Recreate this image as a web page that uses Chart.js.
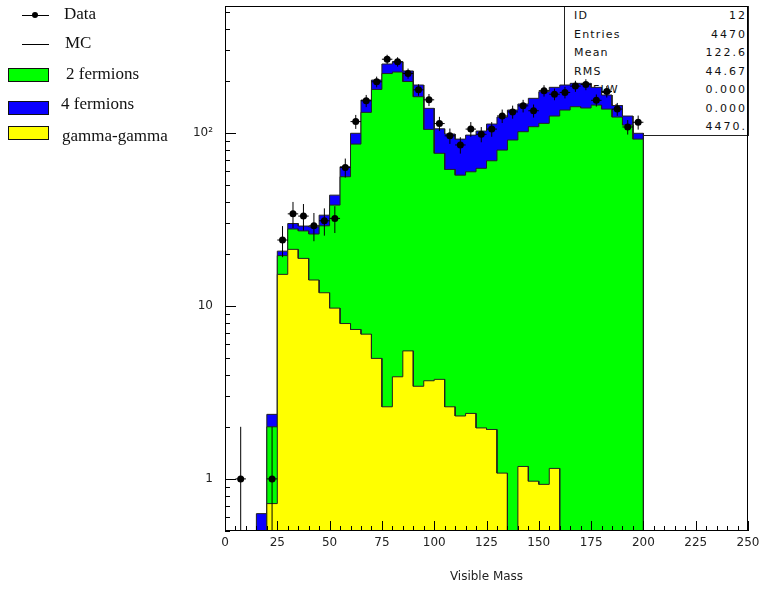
<!DOCTYPE html>
<html>
<head>
<meta charset="utf-8">
<script src="https://cdn.jsdelivr.net/npm/chart.js@4/dist/chart.umd.min.js"></script>
<style>
html,body{margin:0;padding:0;background:#fff;}
#wrap{position:relative;width:772px;height:589px;overflow:hidden;background:#fff;}
#chart{position:absolute;left:0;top:0;z-index:2;}
#stats{position:absolute;left:564px;top:6px;width:185px;height:130px;box-sizing:border-box;border:1px solid #222;z-index:1;font-family:"DejaVu Sans",sans-serif;font-size:11px;color:#111;}
#stats .row{position:absolute;left:9px;right:1px;height:14px;line-height:14px;}
#stats .k{position:absolute;left:0;top:0;letter-spacing:1.2px;}
#stats .v{position:absolute;right:0;top:0;letter-spacing:2px;}
#legend{position:absolute;left:0;top:0;width:200px;height:160px;z-index:3;font-family:"Liberation Serif","DejaVu Serif",serif;font-size:17px;color:#111;}
#legend .t{position:absolute;height:20px;line-height:20px;white-space:nowrap;}
#legend .ln{position:absolute;height:1px;background:#000;}
#legend .dot{position:absolute;width:6px;height:6px;border-radius:50%;background:#000;}
#legend .bx{position:absolute;width:41px;height:14px;box-sizing:border-box;border:1px solid #111;}
</style>
</head>
<body>
<div id="wrap">
  <div id="stats"></div>
  <canvas id="chart" width="772" height="589"></canvas>
  <div id="legend"></div>
</div>
<script>
// ---------- data ----------
const massBinLow = [0,5,10,15,20,25,30,35,40,45,50,55,60,65,70,75,80,85,90,95,
                    100,105,110,115,120,125,130,135,140,145,150,155,160,165,170,175,180,185,190,195];
const binWidth = 5;
// total MC (2 fermions + 4 fermions + gamma-gamma) -> blue
const mcTotal = [0,0,0,0.63,2.36,20.7,29.9,28.9,28.6,33.4,43.6,63.6,99.3,154.5,201.6,249.6,257,227.5,188.7,138.4,
                 105.4,98.3,91.9,96.9,102.3,112.3,123.2,135.3,146.6,158.1,172.6,183,188.7,193,193,183,165.2,143.6,124.9,99.3];
// 2 fermions + gamma-gamma -> green
const mc2fermions = [0,0,0,0,2.0,19.5,27.8,27.1,26,29,38.2,55.7,86,131.2,178,219.8,224.4,197.7,161.5,104.6,
                     76.1,61.4,56.9,59.5,62.3,68.9,79.4,90.8,101.4,108.4,113.3,124.9,135.3,141.4,139,144.5,137,123.2,110.8,91.9];
// gamma-gamma -> yellow
const mcGammaGamma = [0,0,0,0,0.72,15.2,21.2,18.8,14.1,11.9,9.7,7.9,7.3,6.86,4.97,2.61,3.89,5.49,3.43,3.69,
                      3.76,2.61,2.31,2.39,1.97,1.93,1.08,0,1.18,0.97,0.93,1.15,0,0,0,0,0,0,0,0];
// data counts
const dataCounts = [0,1,0,0,1,24,34,33,29,31,32,63,116,153,197,266,257,220,177,155,
                    113,96,85,105,98,105,125,132,143,134,175,167,171,186,190,154,173,137,108,115];
const xTickValues = [0,25,50,75,100,125,150,175,200,225,250];
const yTickValues = [1,10,100];
const yTickLabels = ['1','10','10\u00B2'];
const statLabels = ['ID','Entries','Mean','RMS','UDFLW','OVFLW','ALLCHAN'];
const statValues = ['12','4470','122.6','44.67','0.000','0.000','4470.'];
const legendLabels = ['Data','MC','2 fermions','4 fermions','gamma-gamma'];

// ---------- helpers ----------
const FLOOR = 1e-3; // below the axis minimum, clipped away
function histPoints(vals){
  const pts = [{x: massBinLow[0], y: FLOOR}];
  vals.forEach((v,i)=>{
    const y = v > 0 ? v : FLOOR;
    pts.push({x: massBinLow[i], y}, {x: massBinLow[i] + binWidth, y});
  });
  pts.push({x: massBinLow[massBinLow.length-1] + binWidth, y: FLOOR});
  return pts;
}
const dataPts = [], errV = [], errH = [];
dataCounts.forEach((n,i)=>{
  if (n <= 0) return;
  const c = massBinLow[i] + binWidth/2, e = Math.sqrt(n);
  dataPts.push({x:c, y:n});
  errV.push({x:c, y:Math.max(n-e, FLOOR)}, {x:c, y:n+e}, {x:c, y:null});
  errH.push({x:c-binWidth/2, y:n}, {x:c+binWidth/2, y:n}, {x:c, y:null});
});

const histStyle = {type:'line', pointRadius:0, borderWidth:1, borderColor:'#222', fill:'start', tension:0, spanGaps:false};

const framePlugin = {
  id:'frame',
  afterDatasetsDraw(chart){
    const {ctx, chartArea:a, scales:{x, y}} = chart;
    ctx.save();
    ctx.strokeStyle = '#000';
    ctx.lineWidth = 1;
    ctx.beginPath();
    for (let v = x.min; v <= x.max; v += 5){
      const px = Math.round(x.getPixelForValue(v)) + 0.5;
      const len = (v % 25 === 0) ? 10 : 5;
      ctx.moveTo(px, a.bottom); ctx.lineTo(px, a.bottom - len);
    }
    for (let d = -1; d <= 2; d++){
      for (let k = 1; k < 10; k++){
        const v = k * Math.pow(10, d);
        if (v < y.min || v > y.max) continue;
        const py = Math.round(y.getPixelForValue(v)) + 0.5;
        const len = k === 1 ? 11 : 5;
        ctx.moveTo(a.left, py); ctx.lineTo(a.left + len, py);
      }
    }
    ctx.stroke();
    ctx.strokeRect(Math.round(a.left)+0.5, Math.round(a.top)+0.5, Math.round(a.right-a.left)-1, Math.round(a.bottom-a.top)-1);
    ctx.restore();
  }
};

new Chart(document.getElementById('chart'), {
  type:'line',
  data:{
    datasets:[
      {label:'Data', data:dataPts, showLine:false, pointRadius:3.5, pointHoverRadius:3.5, pointBackgroundColor:'#000', pointBorderColor:'#000', pointBorderWidth:0, order:0},
      {label:'errV', data:errV, pointRadius:0, borderColor:'#000', borderWidth:1, spanGaps:false, fill:false, order:1},
      {label:'errH', data:errH, pointRadius:0, borderColor:'#000', borderWidth:1, spanGaps:false, fill:false, order:1},
      Object.assign({label:'gamma-gamma', data:histPoints(mcGammaGamma), backgroundColor:'#ffff00', order:2}, histStyle),
      Object.assign({label:'2 fermions', data:histPoints(mc2fermions), backgroundColor:'#00ff00', order:3}, histStyle),
      Object.assign({label:'4 fermions', data:histPoints(mcTotal), backgroundColor:'#0a00ff', order:4}, histStyle)
    ]
  },
  options:{
    responsive:false,
    animation:false,
    devicePixelRatio:1,
    layout:{padding:{left:180, right:24, top:6, bottom:0}},
    plugins:{legend:{display:false}, tooltip:{enabled:false}},
    events:[],
    scales:{
      x:{
        type:'linear', min:0, max:250,
        afterBuildTicks(s){ s.ticks = xTickValues.map(v=>({value:v})); },
        afterFit(s){ s.height = 58; },
        ticks:{font:{family:'DejaVu Sans', size:12}, color:'#222', padding:5, maxRotation:0, autoSkip:false},
        grid:{display:false, drawTicks:false},
        border:{display:false},
        title:{display:true, text:'Visible Mass', font:{family:'DejaVu Sans', size:12}, color:'#222', padding:{top:4, bottom:5}}
      },
      y:{
        type:'logarithmic', min:0.5, max:540,
        afterBuildTicks(s){ s.ticks = yTickValues.map(v=>({value:v})); },
        afterFit(s){ s.width = 45; s.paddingTop = 0; s.paddingBottom = 0; },
        ticks:{font:{family:'DejaVu Sans', size:12}, color:'#222', padding:12,
               callback:(v)=>{ const i = yTickValues.indexOf(v); return i >= 0 ? yTickLabels[i] : ''; }},
        grid:{display:false, drawTicks:false},
        border:{display:false}
      }
    }
  },
  plugins:[framePlugin]
});

// ---------- stats box (under the canvas, like the original) ----------
const stats = document.getElementById('stats');
statLabels.forEach((k,i)=>{
  const r = document.createElement('div');
  r.className = 'row';
  r.style.top = (2 + i*18.5) + 'px';
  r.innerHTML = '<span class="k"></span><span class="v"></span>';
  r.querySelector('.k').textContent = k;
  r.querySelector('.v').textContent = statValues[i];
  stats.appendChild(r);
});

// ---------- legend ----------
const lg = document.getElementById('legend');
function add(cls, css, text){
  const d = document.createElement('div');
  d.className = cls;
  Object.assign(d.style, css);
  if (text) d.textContent = text;
  lg.appendChild(d);
}
add('ln', {left:'22px', top:'15px', width:'27px'});
add('dot', {left:'32px', top:'12px'});
add('t', {left:'64px', top:'4px'}, legendLabels[0]);
add('ln', {left:'22px', top:'44px', width:'27px'});
add('t', {left:'65px', top:'33px'}, legendLabels[1]);
add('bx', {left:'8px', top:'68px', background:'#00ff00'});
add('t', {left:'66px', top:'64px'}, legendLabels[2]);
add('bx', {left:'8px', top:'101px', background:'#0a00ff'});
add('t', {left:'61px', top:'94px'}, legendLabels[3]);
add('bx', {left:'8px', top:'126px', background:'#ffff00'});
add('t', {left:'62px', top:'126px'}, legendLabels[4]);
</script>
</body>
</html>
